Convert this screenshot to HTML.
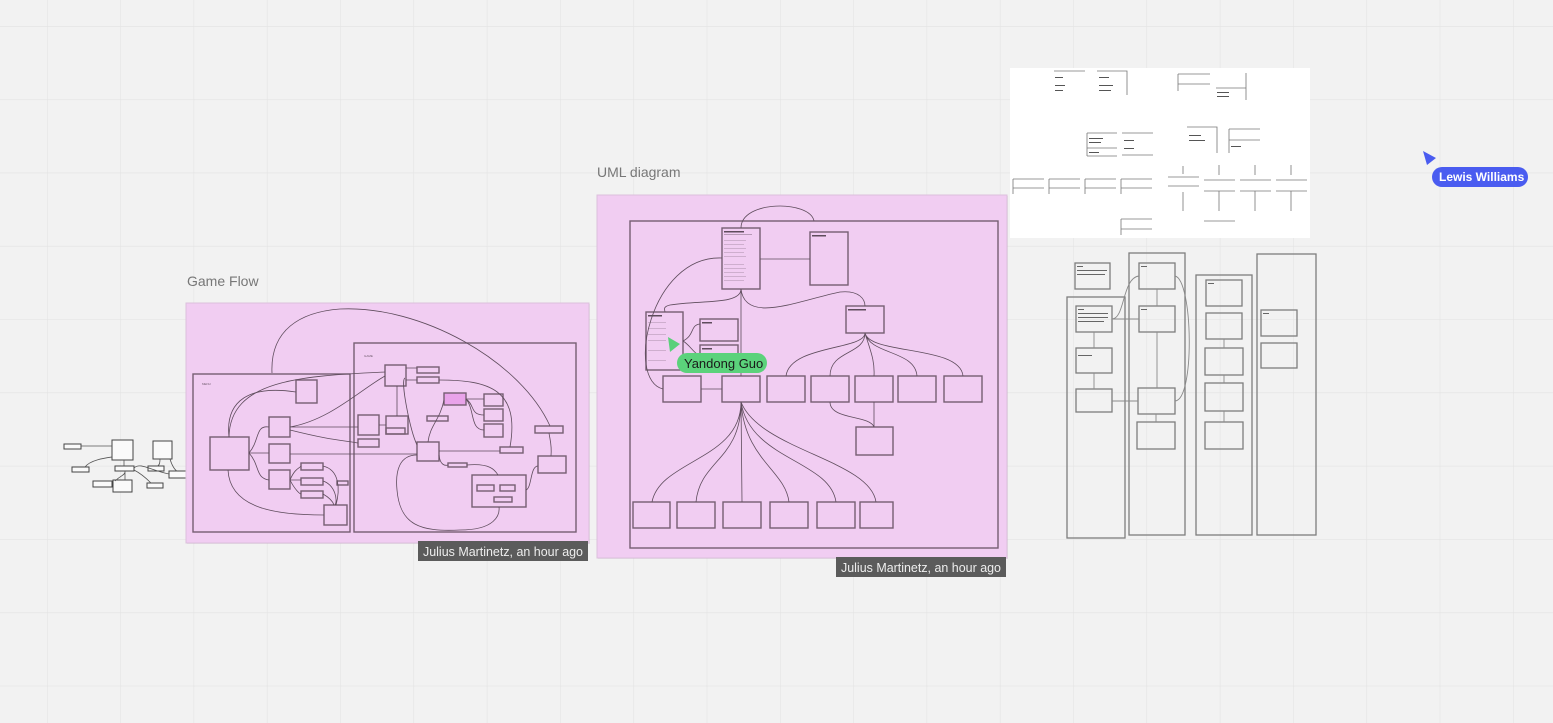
<!DOCTYPE html>
<html><head><meta charset="utf-8"><style>
html,body{margin:0;padding:0;width:1553px;height:723px;overflow:hidden;background:#f2f2f2}
svg{display:block}
text{font-family:"Liberation Sans",sans-serif}
</style></head><body>
<svg width="1553" height="723" viewBox="0 0 1553 723" xmlns="http://www.w3.org/2000/svg">
<defs>
<pattern id="g" x="47" y="26" width="73.3" height="73.3" patternUnits="userSpaceOnUse">
<path d="M0 0V73.3M0 0H73.3" stroke="#e3e3e3" stroke-width="1.2" fill="none"/>
</pattern>
</defs>
<rect width="1553" height="723" fill="#f2f2f2"/>
<rect width="1553" height="723" fill="url(#g)"/>

<text x="187" y="286" font-size="14" fill="#777">Game Flow</text>
<text x="597" y="177" font-size="14" fill="#777">UML diagram</text>

<g fill="#fafafa" stroke="#444" stroke-width="1">
<rect x="64" y="444" width="17" height="5"/>
<rect x="112" y="440" width="21" height="20"/>
<rect x="153" y="441" width="19" height="18"/>
<rect x="72" y="467" width="17" height="5"/>
<rect x="115" y="466" width="19" height="5"/>
<rect x="148" y="466" width="16" height="5"/>
<rect x="169" y="471" width="17" height="7"/>
<rect x="93" y="481" width="19" height="6"/>
<rect x="113" y="480" width="19" height="12"/>
<rect x="147" y="483" width="16" height="5"/>
</g>
<g fill="none" stroke="#555" stroke-width="0.8">
<path d="M81 446H112M85 467C90 460 105 458 112 457M124 460V466M134 468C140 462 150 470 169 474M160 459C160 465 158 466 157 466M170 459C172 466 175 470 177 471M125 471V480M115 481C120 476 125 475 125 472M151 483C146 478 140 473 134 470"/>
</g>

<rect x="187" y="304" width="403" height="240" fill="#000" opacity="0.06"/>
<rect x="186" y="303" width="403" height="240" fill="#f1cdf2" stroke="#dcc0dc"/>
<g fill="none" stroke="#765e72" stroke-width="1.4">
<rect x="193" y="374" width="157" height="158"/>
<rect x="354" y="343" width="222" height="189"/>
<rect x="210" y="437" width="39" height="33"/>
<rect x="296" y="380" width="21" height="23"/>
<rect x="269" y="417" width="21" height="20"/>
<rect x="269" y="444" width="21" height="19"/>
<rect x="269" y="470" width="21" height="19"/>
<rect x="301" y="463" width="22" height="7"/>
<rect x="301" y="478" width="22" height="7"/>
<rect x="301" y="491" width="22" height="7"/>
<rect x="324" y="505" width="23" height="20"/>
<rect x="337" y="481" width="11" height="4"/>
<rect x="385" y="365" width="21" height="21"/>
<rect x="417" y="367" width="22" height="6"/>
<rect x="417" y="377" width="22" height="6"/>
<rect x="358" y="415" width="21" height="20"/>
<rect x="386" y="416" width="22" height="18"/>
<rect x="386" y="428" width="19" height="6"/>
<rect x="358" y="439" width="21" height="8"/>
<rect x="417" y="442" width="22" height="19"/>
<rect x="484" y="394" width="19" height="12"/>
<rect x="484" y="409" width="19" height="12"/>
<rect x="484" y="424" width="19" height="13"/>
<rect x="427" y="416" width="21" height="5"/>
<rect x="500" y="447" width="23" height="6"/>
<rect x="448" y="463" width="19" height="4"/>
<rect x="472" y="475" width="54" height="32"/>
<rect x="477" y="485" width="17" height="6"/>
<rect x="500" y="485" width="15" height="6"/>
<rect x="494" y="497" width="18" height="5"/>
<rect x="535" y="426" width="28" height="7"/>
<rect x="538" y="456" width="28" height="17"/>
</g>
<rect x="444" y="393" width="22" height="12" fill="#e9a3ea" stroke="#765e72" stroke-width="1.4"/>
<g fill="none" stroke="#5e4c5c" stroke-width="0.8">
<path d="M272 373C270 330 300 312 340 309C420 305 520 360 550 426"/>
<path d="M229 437C225 400 250 385 296 392"/>
<path d="M249 453C260 440 255 425 269 427M249 453H269M249 453C260 465 255 478 269 480"/>
<path d="M290 427C330 420 360 390 385 376M290 427H358M290 430C330 440 340 440 358 443"/>
<path d="M290 454H417"/>
<path d="M290 480C295 468 300 468 301 466M290 480H301M290 480C295 490 300 494 301 494"/>
<path d="M323 466C340 470 340 490 336 505M323 481C335 485 338 500 335 505M323 494C330 498 333 502 334 505"/>
<path d="M324 515C280 515 230 510 228 470"/>
<path d="M406 368H417M406 380H417"/>
<path d="M379 425H386M397 416V386M405 378C400 380 410 430 417 445"/>
<path d="M428 442C430 425 440 420 444 400M466 399H484M466 399C475 405 470 415 484 415M466 399C475 410 470 430 484 430"/>
<path d="M439 380C490 380 520 390 510 447M439 451H500"/>
<path d="M439 455C440 465 445 466 448 465M467 465C490 463 495 470 498 475"/>
<path d="M417 455C400 455 395 470 397 490C400 525 420 532 460 530C495 530 500 515 499 507"/>
<path d="M526 490C532 488 530 466 538 466M551 456C552 445 550 440 549 433"/>
<path d="M229 437C230 380 300 376 385 372"/>
</g>
<g fill="#6e5a6c" font-size="3">
<text x="202" y="385">MENU</text><text x="364" y="357">GAME</text>
</g>
<rect x="418" y="541" width="170" height="20" fill="#5b5b5b"/>
<text x="423" y="556" font-size="12.5" fill="#eee" textLength="160" lengthAdjust="spacingAndGlyphs">Julius Martinetz, an hour ago</text>

<rect x="598" y="196" width="410" height="363" fill="#000" opacity="0.06"/>
<rect x="597" y="195" width="410" height="363" fill="#f1cdf2" stroke="#dcc0dc"/>
<g fill="none" stroke="#765e72" stroke-width="1.4">
<rect x="630" y="221" width="368" height="327"/>
<rect x="722" y="228" width="38" height="61"/>
<rect x="810" y="232" width="38" height="53"/>
<rect x="846" y="306" width="38" height="27"/>
<rect x="646" y="312" width="37" height="58"/>
<rect x="700" y="319" width="38" height="22"/>
<rect x="700" y="345" width="38" height="20"/>
<rect x="663" y="376" width="38" height="26"/>
<rect x="722" y="376" width="38" height="26"/>
<rect x="767" y="376" width="38" height="26"/>
<rect x="811" y="376" width="38" height="26"/>
<rect x="855" y="376" width="38" height="26"/>
<rect x="898" y="376" width="38" height="26"/>
<rect x="944" y="376" width="38" height="26"/>
<rect x="856" y="427" width="37" height="28"/>
<rect x="633" y="502" width="37" height="26"/>
<rect x="677" y="502" width="38" height="26"/>
<rect x="723" y="502" width="38" height="26"/>
<rect x="770" y="502" width="38" height="26"/>
<rect x="817" y="502" width="38" height="26"/>
<rect x="860" y="502" width="33" height="26"/>
</g>
<g fill="none" stroke="#5e4c5c" stroke-width="0.8">
<path d="M741 228C741 200 810 200 814 221"/>
<path d="M810 259H760"/>
<path d="M722 258C650 255 625 380 663 389"/>
<path d="M741 289V376"/>
<path d="M741 289C741 305 700 300 670 305C662 307 665 310 665 312"/>
<path d="M741 289C745 325 800 300 840 292C860 290 865 300 865 306"/>
<path d="M683 341C695 335 690 325 700 324M683 341C690 345 695 355 700 355"/>
<path d="M865 333C865 350 790 345 786 376M865 333C865 355 830 350 830 376M865 333C870 350 875 360 874 376M865 333C870 355 915 350 917 376M865 333C870 355 960 345 963 376"/>
<path d="M830 402C830 420 870 415 874 427M874 402V427"/>
<path d="M741 402C741 460 660 460 652 502M741 402C741 460 700 460 696 502M741 402L742 502M741 402C745 460 785 470 789 502M741 402C750 460 830 460 836 502M741 402C760 450 870 460 876 502"/>
<path d="M701 389H722"/>
</g>
<g fill="#5e4c5c">
<rect x="724" y="231" width="20" height="1.5"/><rect x="812" y="235" width="14" height="1.5"/>
<rect x="848" y="309" width="18" height="1.5"/><rect x="648" y="315" width="14" height="1.5"/>
<rect x="702" y="322" width="10" height="1.5"/><rect x="702" y="348" width="10" height="1.5"/>
<rect x="724" y="234" width="28" height="0.8" opacity="0.5"/>
<rect x="724" y="240" width="22" height="0.6" opacity="0.4"/><rect x="724" y="244" width="20" height="0.6" opacity="0.4"/>
<rect x="724" y="248" width="22" height="0.6" opacity="0.4"/><rect x="724" y="252" width="20" height="0.6" opacity="0.4"/>
<rect x="724" y="256" width="22" height="0.6" opacity="0.4"/><rect x="724" y="264" width="20" height="0.6" opacity="0.4"/>
<rect x="724" y="268" width="22" height="0.6" opacity="0.4"/><rect x="724" y="272" width="20" height="0.6" opacity="0.4"/>
<rect x="724" y="276" width="22" height="0.6" opacity="0.4"/><rect x="724" y="280" width="20" height="0.6" opacity="0.4"/>
<rect x="648" y="322" width="18" height="0.6" opacity="0.4"/><rect x="648" y="328" width="18" height="0.6" opacity="0.4"/>
<rect x="648" y="334" width="18" height="0.6" opacity="0.4"/><rect x="648" y="340" width="18" height="0.6" opacity="0.4"/>
<rect x="648" y="350" width="18" height="0.6" opacity="0.4"/><rect x="648" y="360" width="18" height="0.6" opacity="0.4"/>
</g>
<path d="M668 337L680 344L670 352Z" fill="#5ad07a"/>
<rect x="677" y="353" width="90" height="20" rx="10" fill="#5bd27b"/>
<text x="684" y="368" font-size="13" fill="#1a1a1a">Yandong Guo</text>
<rect x="836" y="557" width="170" height="20" fill="#5b5b5b"/>
<text x="841" y="572" font-size="12.5" fill="#eee" textLength="160" lengthAdjust="spacingAndGlyphs">Julius Martinetz, an hour ago</text>

<rect x="1010" y="68" width="300" height="170" fill="#fff"/>
<g fill="none" stroke="#777" stroke-width="0.8">
<path d="M1054 71H1085M1097 71H1127V95M1178 74V91M1178 74H1210M1178 84H1210M1216 88H1246M1246 73V100"/>
<path d="M1087 133V156M1087 133H1117M1087 148H1117M1087 156H1117M1122 133H1153M1122 155H1153"/>
<path d="M1187 127H1217V153M1229 129V153M1229 129H1260M1229 140H1260"/>
<path d="M1013 179V194M1013 179H1044M1013 188H1044M1049 179V194M1049 179H1080M1049 188H1080M1085 179V194M1085 179H1116M1085 188H1116M1121 179V194M1121 179H1152M1121 188H1152"/>
<path d="M1121 219V235M1121 219H1152M1121 229H1152"/>
<path d="M1183 166V174M1168 177H1199M1168 186H1199M1183 192V211M1204 180H1235M1204 191H1235M1219 165V175M1219 191V211M1204 221H1235M1240 180H1271M1240 191H1271M1255 165V175M1255 191V211M1276 180H1307M1276 191H1307M1291 165V175M1291 191V211"/>
</g>
<g fill="#555">
<rect x="1055" y="77" width="8" height="1"/><rect x="1055" y="85" width="10" height="1"/><rect x="1055" y="90" width="8" height="1"/>
<rect x="1099" y="77" width="10" height="1"/><rect x="1099" y="85" width="14" height="1"/><rect x="1099" y="90" width="12" height="1"/>
<rect x="1217" y="92" width="12" height="1"/><rect x="1217" y="96" width="12" height="1"/>
<rect x="1089" y="138" width="14" height="1"/><rect x="1089" y="142" width="12" height="1"/><rect x="1089" y="152" width="10" height="1"/>
<rect x="1124" y="140" width="10" height="1"/><rect x="1124" y="148" width="10" height="1"/>
<rect x="1189" y="135" width="12" height="1"/><rect x="1189" y="140" width="16" height="1"/><rect x="1231" y="146" width="10" height="1"/>
</g>

<g fill="none" stroke="#7e7e7e" stroke-width="1.3">
<rect x="1075" y="263" width="35" height="26"/>
<rect x="1067" y="297" width="58" height="241"/>
<rect x="1076" y="306" width="36" height="26"/>
<rect x="1076" y="348" width="36" height="25"/>
<rect x="1076" y="389" width="36" height="23"/>
<rect x="1129" y="253" width="56" height="282"/>
<rect x="1139" y="263" width="36" height="26"/>
<rect x="1139" y="306" width="36" height="26"/>
<rect x="1138" y="388" width="37" height="26"/>
<rect x="1137" y="422" width="38" height="27"/>
<rect x="1196" y="275" width="56" height="260"/>
<rect x="1206" y="280" width="36" height="26"/>
<rect x="1206" y="313" width="36" height="26"/>
<rect x="1205" y="348" width="38" height="27"/>
<rect x="1205" y="383" width="38" height="28"/>
<rect x="1205" y="422" width="38" height="27"/>
<rect x="1257" y="254" width="59" height="281"/>
<rect x="1261" y="310" width="36" height="26"/>
<rect x="1261" y="343" width="36" height="25"/>
</g>
<g fill="none" stroke="#8a8a8a" stroke-width="0.9">
<path d="M1094 332V348M1094 373V389M1112 319H1139M1112 319C1125 319 1122 278 1139 276M1157 289V306M1157 332V388M1138 401H1112M1175 401C1195 400 1193 280 1175 276M1156 414V422M1224 339V348M1224 375V383M1224 411V422"/>
</g>
<g fill="#666">
<rect x="1077" y="266" width="6" height="1"/><rect x="1077" y="270" width="30" height="1"/><rect x="1077" y="274" width="28" height="1"/>
<rect x="1078" y="309" width="6" height="1"/><rect x="1078" y="313" width="30" height="1"/><rect x="1078" y="317" width="30" height="1"/><rect x="1078" y="321" width="26" height="1"/>
<rect x="1078" y="355" width="14" height="1"/><rect x="1141" y="266" width="6" height="1"/><rect x="1141" y="309" width="6" height="1"/>
<rect x="1263" y="313" width="6" height="1"/><rect x="1208" y="283" width="6" height="1"/>
</g>

<path d="M1423 151L1436 158L1427 165Z" fill="#4a5cf0"/>
<rect x="1432" y="167" width="96" height="20" rx="10" fill="#4a5cf0"/>
<text x="1439" y="181" font-size="12" font-weight="bold" fill="#fff">Lewis Williams</text>
</svg>
</body></html>
